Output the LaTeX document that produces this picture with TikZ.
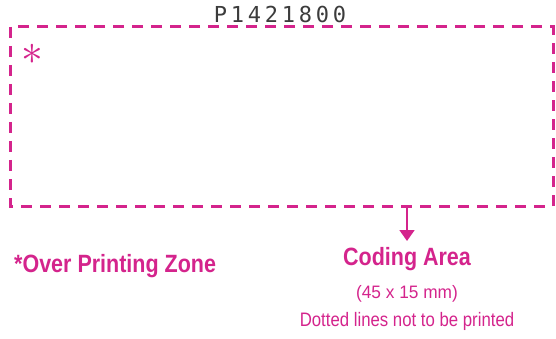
\documentclass[tikz,border=0pt]{standalone}
\usepackage{fontspec}
\setmainfont{Liberation Sans}
\newfontfamily\condfont[FakeStretch=0.86]{Liberation Sans}
\newfontfamily\narrowfont[FakeStretch=0.96]{Liberation Sans}
\newfontfamily\monofont[LetterSpace=17]{DejaVu Sans Mono}
\usetikzlibrary{arrows.meta}
\definecolor{mag}{RGB}{212,36,140}
\definecolor{codegray}{RGB}{60,60,60}
\tikzset{
  zone/.style={draw=mag, line width=3pt, dash pattern=on 11pt off 8pt},
  label/.style={text=mag, inner sep=0pt},
  pointer/.style={draw=mag, line width=1.8pt, -{Triangle[length=11pt,width=15pt]}}
}
\begin{document}
\begin{tikzpicture}[x=1pt,y=-1pt]
\useasboundingbox (0,0) rectangle (556,339);
\draw[zone] (10,27) rectangle (553,206);
\node[inner sep=0pt, anchor=base, text=codegray, font=\monofont\fontsize{22}{26}\selectfont] (code) at (280,23) {P1421800};
\node[label, anchor=center, font=\fontsize{24.88}{30}\selectfont] (star) at (32,54) {\scalebox{1.75}{$\ast$}};
\coordinate (tap) at (407,206);
\coordinate (tip) at (407,241);
\draw[pointer] (tap) -- (tip);
\node[label, anchor=base, font=\condfont\bfseries\fontsize{25}{30}\selectfont] (coding) at (407,265) {Coding Area};
\node[label, anchor=base, font=\narrowfont\fontsize{18}{21}\selectfont] (size) at (407,298) {(45 x 15 mm)};
\node[label, anchor=base, font=\condfont\fontsize{19.5}{22}\selectfont] (note) at (407,326) {Dotted lines not to be printed};
\node[label, anchor=base west, font=\condfont\bfseries\fontsize{25}{30}\selectfont] (over) at (14,272) {*Over Printing Zone};
\end{tikzpicture}
\end{document}
